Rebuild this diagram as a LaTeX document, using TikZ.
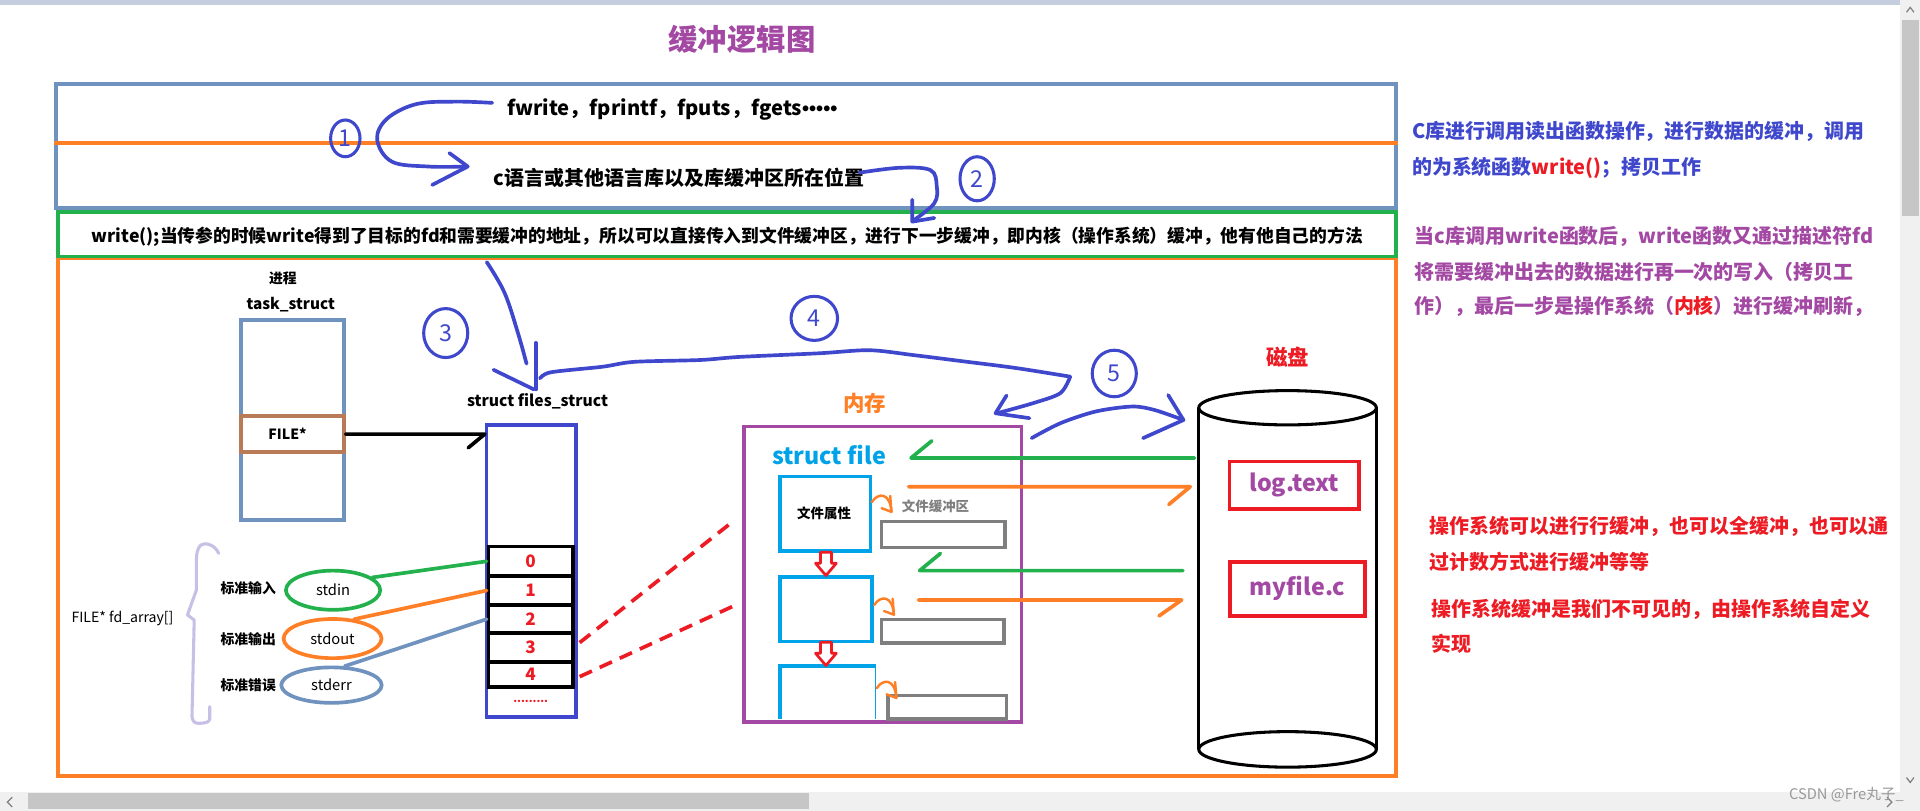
\documentclass[tikz,border=0pt]{standalone}
\usepackage{fontspec}
\setmainfont{Noto Sans CJK SC}
\newfontfamily\libs{Liberation Sans}
\usetikzlibrary{shapes.geometric}
\definecolor{sblue}{HTML}{7092BE}
\definecolor{orng}{HTML}{FF7F27}
\definecolor{grn}{HTML}{22B14C}
\definecolor{hblue}{HTML}{3F48CC}
\definecolor{purp}{HTML}{A349A4}
\definecolor{rd}{HTML}{ED1C24}
\definecolor{cyn}{HTML}{00A2E8}
\definecolor{brn}{HTML}{B97A57}
\definecolor{lav}{HTML}{C8BFE7}
\definecolor{gry}{HTML}{7F7F7F}
\definecolor{barbg}{HTML}{F0F0F0}
\definecolor{thumb}{HTML}{C6C6C6}
\definecolor{topbar}{HTML}{C5CEDF}
\newcommand\fsz[1]{\fontsize{#1}{#1}\selectfont}
\tikzset{
  hollowdown/.pic={\draw[rd, line width=2.2pt, line join=round] (-4.5,0) -- (-4.5,9) -- (-8.5,9) -- (0,19) -- (8.5,9) -- (4.5,9) -- (4.5,0) -- cycle;},
  smallarr/.pic={\draw[orng, line width=2pt, line cap=round, line join=round] (0,0) .. controls (5,-8) and (15,-8) .. (16,8);
                 \draw[orng, line width=2pt, line cap=round, line join=round] (15,-5) -- (16,8) -- (8,5);}
}
\begin{document}
\begin{tikzpicture}[x=1pt,y=-1pt,
  t/.style={inner sep=0pt},
  hand/.style={draw=hblue, line width=3pt, line cap=round, line join=round},
  circ/.style={ellipse, draw=hblue, line width=2.5pt, inner sep=0pt, text=hblue, font=\fsz{19}},
  cell/.style={draw=black, line width=3pt, minimum width=69pt, inner sep=0pt, text=rd, font=\bfseries\fsz{14}},
  fbox/.style={draw=cyn, line width=3pt, inner sep=0pt},
  gbox/.style={draw=gry, line width=3pt, inner sep=0pt},
  rbox/.style={draw=rd, line width=3pt, inner sep=0pt, text=purp, font=\bfseries\fsz{19}},
  ell/.style={ellipse, line width=3pt, inner sep=0pt, font=\fsz{12}},
  lbl/.style={inner sep=0pt, font=\bfseries\fsz{11.3}},
  rtxt/.style={inner sep=0pt, anchor=west, font=\bfseries\fsz{16.3}},
]
\useasboundingbox (0,0) rectangle (1568,662);
\fill[white] (0,0) rectangle (1568,662);
% window chrome
\fill[topbar] (0,0) rectangle (1552,4);
\fill[barbg] (1552,0) rectangle (1568,662);
\fill[thumb] (1553,16) rectangle (1567,176);
\fill[barbg] (0,647) rectangle (1552,662);
\fill[thumb] (23,648) rectangle (661,661);
\draw[gry, line width=1pt] (1557,10) -- (1560,6) -- (1563,10);
\draw[gry, line width=1pt] (1557,635) -- (1560,639) -- (1563,635);
\draw[gry, line width=1pt] (10,651) -- (6,655) -- (10,659);
\draw[gry, line width=1pt] (1541,651) -- (1545,655) -- (1541,659);

% title
\node[t, text=purp, font=\bfseries\fsz{24}] (title) at (606,32) {缓冲逻辑图};

% top blue box
\node[draw=sblue, line width=3pt, minimum width=1094pt, minimum height=101.4pt, inner sep=0pt] (lib) at (593,119.3) {};
\draw[orng, line width=3.5pt] (lib.west |- 0,116.5) coordinate (ol) -- (lib.east |- 0,116.5) coordinate (or);
\node[t, font=\bfseries\fsz{16.5}] (funcs) at (549,89.8) {fwrite，fprintf，fputs，fgets{\libs\bfseries •••••}};
\node[t, font=\bfseries\fsz{16.3}] (clib) at (554.5,145.6) {c语言或其他语言库以及库缓冲区所在位置};

% orange big box
\draw[orng, line width=3pt] (47.5,211) rectangle (1140,633.5);
% green box
\node[draw=grn, line width=3pt, minimum width=1092.5pt, minimum height=36.7pt, inner sep=0pt, fill=white] (wr) at (593.75,191.25) {};
\node[t, font=\bfseries\fsz{14.5}] (wrtxt) at (594,193) {write();当传参的时候write得到了目标的fd和需要缓冲的地址，所以可以直接传入到文件缓冲区，进行下一步缓冲，即内核（操作系统）缓冲，他有他自己的方法};

% right explanations
\node[rtxt, text=hblue] (r1) at (1153,107.5) {C库进行调用读出函数操作，进行数据的缓冲，调用};
\node[rtxt, text=hblue] (r2) at (1153,137.5) {的为系统函数\textcolor{rd}{write()}；拷贝工作};
\node[rtxt, text=purp] (p1) at (1155,193.3) {当c库调用write函数后，write函数又通过描述符fd};
\node[rtxt, text=purp] (p2) at (1155,221.9) {将需要缓冲出去的数据进行再一次的写入（拷贝工};
\node[rtxt, text=purp] (p3) at (1155,250.4) {作），最后一步是操作系统（\textcolor{rd}{内核}）进行缓冲刷新，};
\node[rtxt, text=rd] (q1) at (1167.5,430) {操作系统可以进行行缓冲，也可以全缓冲，也可以通};
\node[rtxt, text=rd] (q2) at (1167.5,458.7) {过计数方式进行缓冲等等};
\node[rtxt, text=rd] (q3) at (1169,498) {操作系统缓冲是我们不可见的，由操作系统自定义};
\node[rtxt, text=rd] (q4) at (1169,526) {实现};

% hand arrows 1 and 2
\node[circ, minimum width=24pt, minimum height=30pt] (c1) at (282,113) {1};
\draw[hand] plot[smooth, tension=0.6] coordinates {(402,84) (372,83) (340,85) (316,97) (308,114) (320,132) (350,136) (381,136)};
\draw[hand] (367,125) -- (382,136) -- (353,151);
\node[circ, minimum width=28pt, minimum height=36pt] (c2) at (798,146) {2};
\draw[hand] plot[smooth, tension=0.6] coordinates {(702,141) (735,137) (760,139) (765,152) (763,166) (746,180)};
\draw[hand] (745,163) -- (745,181) -- (763,178);

% process / task_struct
\node[lbl] (proc) at (231,227) {进程};
\node[t, font=\bfseries\fsz{12.5}] (task) at (237.5,249) {task\_struct};
\node[draw=sblue, line width=3pt, minimum width=83.7pt, minimum height=163.4pt, inner sep=0pt] (tbox) at (238.9,343) {};
\node[draw=brn, line width=3pt, minimum width=83.7pt, minimum height=29pt, inner sep=0pt, fill=white] (filep) at (238.9,354.5) {};
\node[t, font=\bfseries\fsz{11.5}, anchor=west] (filet) at (219,354.6) {FILE*};

% files_struct
\node[t, font=\bfseries\fsz{12.8}] (fst) at (439,328) {struct files\_struct};
\node[draw=hblue, line width=3pt, minimum width=72.9pt, minimum height=238.6pt, inner sep=0pt] (fs) at (433.85,466.3) {};
\node[cell, minimum height=24pt] (cell0) at (433.4,458.4) {0};
\node[cell, minimum height=23.7pt] (cell1) at (433.4,482.25) {1};
\node[cell, minimum height=23.1pt] (cell2) at (433.4,505.65) {2};
\node[cell, minimum height=23.2pt] (cell3) at (433.4,528.8) {3};
\node[cell, minimum height=20.4pt] (cell4) at (433.4,550.6) {4};
\node[t, text=rd, font=\bfseries\fsz{9}] (dots) at (433.4,573) {.........};

\coordinate (fsin) at (fs.west |- filep.east);
\draw[black, line width=3pt, line cap=round, line join=round] (filep.east) -- (fsin) -- ++(-13.5,11.2);

% hand arrow 3 and 4 and 5
\node[circ, minimum width=36pt, minimum height=40pt] (c3) at (364,272) {3};
\draw[hand] plot[smooth, tension=0.6] coordinates {(397.5,214) (412,239) (423,272) (430,297)};
\draw[hand] (437.5,280) -- (437.5,318);
\draw[hand] (403,302) -- (436,318);
\node[circ, minimum width=38pt, minimum height=36pt] (c4) at (665,260) {4};
\draw[hand] plot[smooth, tension=0.5] coordinates {(441,309) (450,304) (492,299.5) (518,295.5) (571.7,294) (603.5,291.5) (669,288.5) (710,286) (746,290) (786,295) (830,300.6) (874,307.6)};
\draw[hand] plot[smooth, tension=0.5] coordinates {(874,307.6) (866,321) (844.5,329) (816,337)};
\draw[hand] (822,323) -- (813,337.5) -- (840.7,341.5);
\node[circ, minimum width=36pt, minimum height=38pt] (c5) at (910,305) {5};
\draw[hand] plot[smooth, tension=0.5] coordinates {(842.5,357.8) (866,345.6) (895,336) (924.5,332) (942.8,334.8) (966.5,343)};
\draw[hand] (954,322.6) -- (966.5,343) -- (933.5,357.8);

% brace and std streams
\draw[lav, line width=2.5pt, line cap=round, line join=round] (178.6,451.9) .. controls (175,444) and (167,443) .. (164,445.1) .. controls (161,448) and (160.4,452) .. (160.4,460) -- (160.4,481.8) -- (153.1,502.2) -- (158.6,506.3) -- (156.8,585) .. controls (157,589) and (159,590.7) .. (162.2,590.7) .. controls (167,590.7) and (171.3,590) .. (171.3,587) -- (171.3,577.1);
\node[t, font=\fsz{11.5}] (fda) at (100,505) {FILE* fd\_array[]};
\node[lbl] (lin) at (202.7,480) {标准输入};
\node[lbl] (lout) at (202.7,522) {标准输出};
\node[lbl] (lerr) at (202.7,560) {标准错误};
\node[ell, draw=grn, minimum width=77pt, minimum height=32pt] (stdin) at (272,482) {stdin};
\node[ell, draw=orng, minimum width=80pt, minimum height=32pt] (stdout) at (271.6,521.5) {stdout};
\node[ell, draw=sblue, minimum width=82pt, minimum height=29pt] (stderr) at (270.7,559.5) {stderr};
\draw[grn, line width=3pt, line cap=round] (stdin.18) -- (cell0.west);
\draw[orng, line width=3pt, line cap=round] (stdout.42) -- (cell1.west);
\draw[sblue, line width=3pt, line cap=round] (stderr.55) -- (cell2.west);

% red dashed to memory
\coordinate (d3) at (600,424.7);
\coordinate (d4) at (601,494);
\draw[rd, line width=3pt, dash pattern=on 11pt off 7pt] (cell3.east) ++(4,-4) -- (d3);
\draw[rd, line width=3pt, dash pattern=on 11pt off 7pt] (cell4.east) ++(4,2) -- (d4);

% memory
\node[t, text=orng, font=\bfseries\fsz{17.5}] (neicun) at (706,329.6) {内存};
\node[draw=purp, line width=2.5pt, minimum width=226.4pt, minimum height=241.1pt, inner sep=0pt] (mem) at (720.8,469.05) {};
\node[t, text=cyn, font=\bfseries\fsz{19}] (sfile) at (677,371.6) {struct file};
\node[fbox, minimum width=74pt, minimum height=61pt] (f1) at (674,419.5) {};
\node[t, font=\bfseries\fsz{11}] (attr) at (673,419) {文件属性};
\node[fbox, minimum width=75pt, minimum height=53pt] (f2) at (674.5,497.5) {};
\draw[cyn, line width=3pt] (637,587.5) -- (637,544) -- (715,544);
\draw[cyn, line width=1.5pt] (715,544) -- (715,587.5);
\pic at (674.5,451) {hollowdown};
\pic at (674.5,524.5) {hollowdown};
\node[gbox, minimum width=101pt, minimum height=21pt] (b1) at (770.5,436.5) {};
\node[gbox, minimum width=100pt, minimum height=19pt] (b2) at (770,515.5) {};
\node[gbox, minimum width=97pt, minimum height=19pt] (b3) at (773.5,577.5) {};
\node[t, text=gry, font=\bfseries\fsz{11}] (bufl) at (764,413.8) {文件缓冲区};
\pic at (712,410) {smallarr};
\pic at (714,494) {smallarr};
\pic at (716,562) {smallarr};

% disk
\node[t, text=rd, font=\bfseries\fsz{17.5}] (cipan) at (1051.5,292) {磁盘};
\coordinate (disk) at (1051.5,472.5);
\draw[black, line width=2.5pt] (1051.5,333) ellipse [x radius=72.5pt, y radius=14pt];
\draw[black, line width=2.5pt] (1051.5,612) ellipse [x radius=72.5pt, y radius=14.5pt];
\draw[black, line width=2.5pt] (979,333) -- (979,612);
\draw[black, line width=2.5pt] (1124,333) -- (1124,612);
\node[rbox, minimum width=106pt, minimum height=38.6pt] (logt) at (1057,396.3) {log.text};
\node[rbox, minimum width=110.5pt, minimum height=44.3pt] (myf) at (1059.7,480.9) {myfile.c};

% green / orange arrows
\coordinate (g1s) at (975.5,374);
\coordinate (g1e) at (744,374);
\coordinate (g2s) at (966,466);
\coordinate (g2e) at (751,466);
\coordinate (o1s) at (742,397.5);
\coordinate (o1e) at (972,397.5);
\coordinate (o2s) at (750,490);
\coordinate (o2e) at (965,490);
\draw[grn, line width=3pt, line cap=round, line join=round] (g1s) -- (g1e) -- ++(17,-14);
\draw[grn, line width=3pt, line cap=round, line join=round] (g2s) -- (g2e) -- ++(17,-14);
\draw[orng, line width=3pt, line cap=round, line join=round] (o1s) -- (o1e) -- ++(-17.5,14.5);
\draw[orng, line width=3pt, line cap=round, line join=round] (o2s) -- (o2e) -- ++(-18.5,13);

% watermark
\node[t, text=gry!80, font=\fsz{12}, anchor=east] (wm) at (1555,649) {CSDN @Fre丸子\_};
\end{tikzpicture}
\end{document}
